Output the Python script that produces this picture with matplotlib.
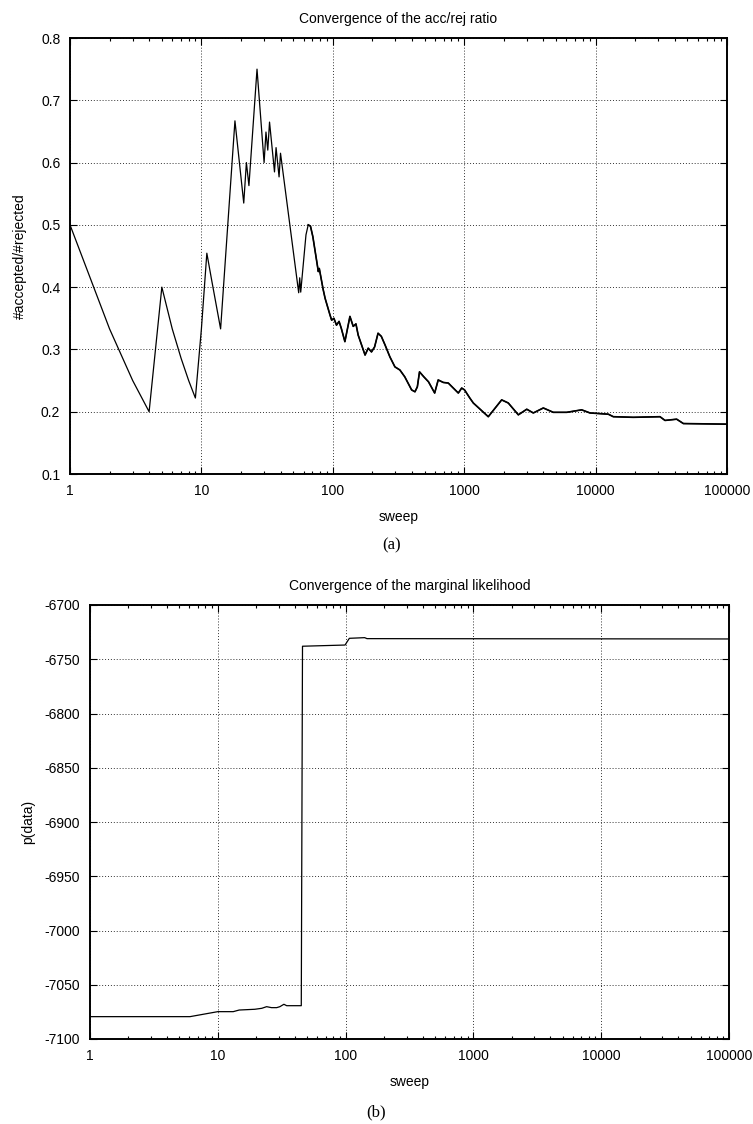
import matplotlib
matplotlib.use("Agg")
import matplotlib.pyplot as plt
from matplotlib.ticker import LogLocator, FixedLocator, NullFormatter, FuncFormatter

plt.rcParams['font.family'] = ['Liberation Sans', 'DejaVu Sans']

# acceptance/rejection ratio per sweep
acc_sweep = [1, 2, 3, 4, 5, 6, 7, 8, 9, 10, 11, 12, 13, 14, 18, 21, 22, 23, 26.5,
             30, 31, 32, 33, 36, 37, 39, 40, 55, 56, 57, 62.5, 65, 67.6, 70.5,
             77.6, 78.9, 84.5, 87.4, 95.3, 98, 101.9, 106.7, 111.6, 116, 123.6,
             135, 143, 150, 156, 176, 186, 197, 208, 221, 234, 250, 272, 297,
             324, 353, 398, 422, 440, 457, 493, 535, 596, 634, 693, 757, 826,
             902, 957, 1006, 1103, 1173, 1525, 1928, 2165, 2582, 2993, 3357,
             4000, 4766, 6026, 7835, 9065, 12500, 13640, 19370, 30900, 33750,
             41400, 46550, 100000]
acc_ratio = [0.5, 0.333, 0.25, 0.2, 0.4, 0.333, 0.286, 0.25, 0.222, 0.333, 0.4545,
             0.41, 0.37, 0.333, 0.667, 0.535, 0.6, 0.563, 0.75,
             0.6, 0.649, 0.62, 0.665, 0.585, 0.624, 0.577, 0.615, 0.391, 0.415,
             0.392, 0.484, 0.5, 0.498, 0.481,
             0.425, 0.43, 0.396, 0.382, 0.355, 0.347, 0.35, 0.339, 0.345, 0.334,
             0.3125, 0.353, 0.337, 0.341, 0.323, 0.291, 0.302, 0.296, 0.304,
             0.326, 0.321, 0.307, 0.288, 0.272,
             0.267, 0.256, 0.235, 0.232, 0.24, 0.264, 0.256, 0.248, 0.23, 0.251,
             0.247, 0.246, 0.238,
             0.23, 0.238, 0.235, 0.222, 0.214, 0.192, 0.219, 0.214, 0.195, 0.204,
             0.198,
             0.206, 0.199, 0.199, 0.203, 0.198, 0.196, 0.192, 0.191, 0.192,
             0.186, 0.188, 0.181, 0.18]

# marginal likelihood per sweep
lik_sweep = [1, 6.06, 10, 13.2, 14.7, 19.5, 22.1, 24.1, 26.3, 28.9, 30.6, 32.9,
             34.6, 45, 46, 99, 107, 141, 147, 100000]
lik_value = [-7079.4, -7079.4, -7074.8, -7074.8, -7073.3, -7072.6, -7071.7,
             -7070.2, -7071.1, -7071.1, -7070.2, -7068.0, -7069.3, -7069.3,
             -6738.0, -6736.9, -6730.7, -6730.1, -6731.0, -6731.3]

x_ticks = [1, 10, 100, 1000, 10000, 100000]
acc_yticks = [0.1, 0.2, 0.3, 0.4, 0.5, 0.6, 0.7, 0.8]
lik_yticks = [-7100, -7050, -7000, -6950, -6900, -6850, -6800, -6750, -6700]

W, H = 753, 1124
fig = plt.figure(figsize=(W / 100, H / 100), dpi=100)


def box(l, t, r, b):
    return [l / W, 1 - b / H, (r - l) / W, (b - t) / H]


def style(ax, yticks, yfmt):
    ax.set_xscale('log')
    ax.set_xlim(1, 100000)
    ax.set_ylim(yticks[0], yticks[-1])
    ax.xaxis.set_major_locator(FixedLocator(x_ticks))
    ax.xaxis.set_major_formatter(FuncFormatter(lambda v, p: f"{v:.0f}"))
    ax.xaxis.set_minor_locator(LogLocator(base=10, subs=range(2, 10), numticks=20))
    ax.xaxis.set_minor_formatter(NullFormatter())
    ax.yaxis.set_major_locator(FixedLocator(yticks))
    ax.yaxis.set_major_formatter(FuncFormatter(yfmt))
    ax.tick_params(which='both', direction='in', top=True, right=True,
                   labelsize=10, width=0.8, pad=7, colors='black')
    ax.tick_params(which='major', length=5)
    ax.tick_params(which='minor', length=2.5)
    for s in ax.spines.values():
        s.set_linewidth(1.4)
    ax.grid(True, which='major', color='#333333', linestyle=(0, (1, 2)),
            linewidth=0.7)
    ax.set_axisbelow(True)


ax1 = fig.add_axes(box(70, 38, 727, 474))
style(ax1, acc_yticks, lambda v, p: f"{v:.1f}")
ax1.plot(acc_sweep, acc_ratio, color='black', linewidth=0.9)
# the later, densely sampled part of the run is drawn a little heavier
tail = [i for i, s in enumerate(acc_sweep) if s >= 65]
ax1.plot([acc_sweep[i] for i in tail], [acc_ratio[i] for i in tail],
         color='black', linewidth=1.2)
ax1.set_title("Convergence of the acc/rej ratio", fontsize=10, pad=11)
ax1.set_xlabel("sweep", fontsize=10, labelpad=9)
ax1.set_ylabel("#accepted/#rejected", fontsize=10, labelpad=10)

ax2 = fig.add_axes(box(90, 605, 729, 1039))
style(ax2, lik_yticks, lambda v, p: f"{v:.0f}")
ax2.plot(lik_sweep, lik_value, color='black', linewidth=0.9)
ax2.set_title("Convergence of the marginal likelihood", fontsize=10, pad=11)
ax2.set_xlabel("sweep", fontsize=10, labelpad=9)
ax2.set_ylabel("p(data)", fontsize=10, labelpad=7)

fig.text(392 / W, 1 - 545 / H, "(a)", ha='center', va='center',
         fontsize=12, family='Liberation Serif')
fig.text(376 / W, 1 - 1112 / H, "(b)", ha='center', va='center',
         fontsize=12, family='Liberation Serif')

fig.savefig("out.png", dpi=100)
